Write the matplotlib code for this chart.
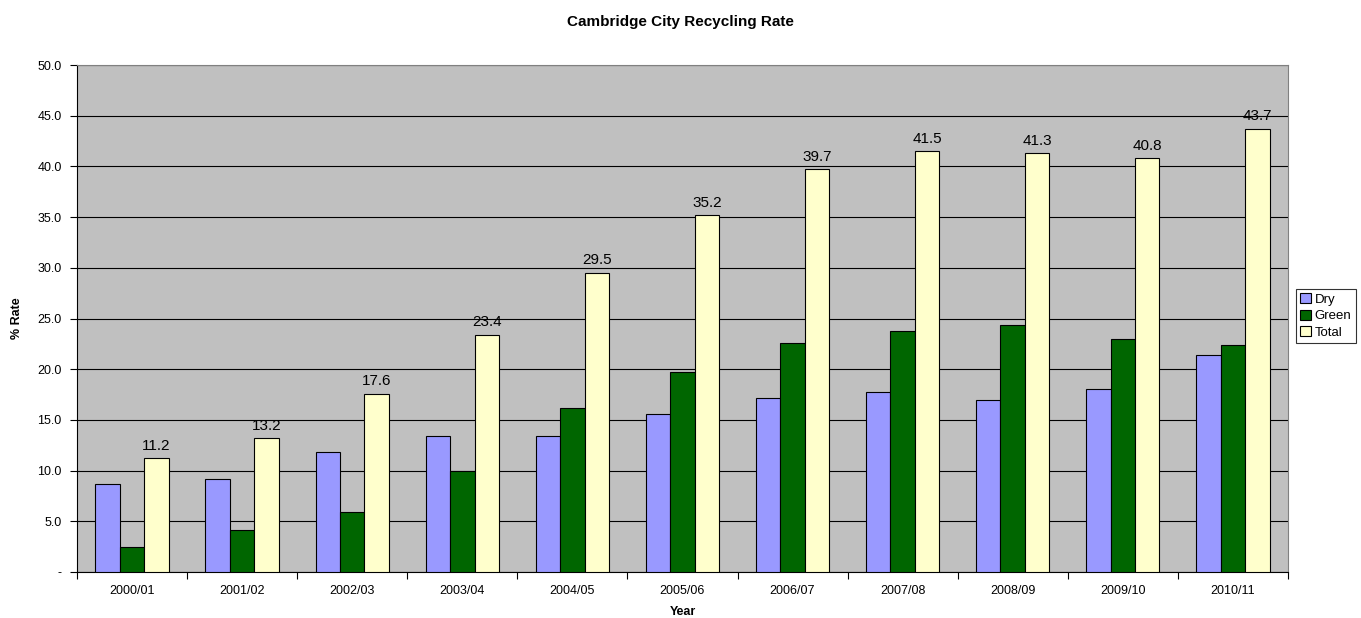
import matplotlib
matplotlib.use("Agg")
import matplotlib.pyplot as plt
import numpy as np

plt.rcParams["font.family"] = ["Liberation Sans", "DejaVu Sans"]

years = ["2000/01", "2001/02", "2002/03", "2003/04", "2004/05", "2005/06",
         "2006/07", "2007/08", "2008/09", "2009/10", "2010/11"]
dry = [8.7, 9.2, 11.8, 13.4, 13.4, 15.6, 17.2, 17.8, 17.0, 18.0, 21.4]
green = [2.5, 4.1, 5.9, 10.0, 16.2, 19.7, 22.6, 23.8, 24.4, 23.0, 22.4]
total = [11.2, 13.2, 17.6, 23.4, 29.5, 35.2, 39.7, 41.5, 41.3, 40.8, 43.7]

fig = plt.figure(figsize=(13.61, 6.18), dpi=100)
ax = fig.add_axes([0.0566, 0.0744, 0.8897, 0.8204])
ax.set_facecolor("#C0C0C0")

x = np.arange(len(years))
w = 0.222
ax.bar(x - w, dry, w, color="#9999FF", edgecolor="black", lw=0.8, label="Dry", zorder=3)
ax.bar(x, green, w, color="#006600", edgecolor="black", lw=0.8, label="Green", zorder=3)
ax.bar(x + w, total, w, color="#FFFFCC", edgecolor="black", lw=0.8, label="Total", zorder=3)
for xi, v in zip(x, total):
    ax.annotate(f"{v:.1f}", (xi + w, v), xytext=(0, 4), textcoords="offset points",
                ha="center", va="bottom", fontsize=11)

ax.set_xlim(-0.5, len(years) - 0.5)
ax.set_ylim(0, 50)
yt = np.arange(0, 50.1, 5)
ax.set_yticks(yt)
ax.set_yticklabels(["-"] + [f"{v:.1f}" for v in yt[1:]], fontsize=9)
ax.yaxis.grid(True, color="black", lw=0.8, zorder=0)
ax.set_axisbelow(True)

ax.set_xticks(np.arange(-0.5, len(years), 1.0))
ax.set_xticklabels([])
ax.set_xticks(x, minor=True)
ax.set_xticklabels(years, minor=True, fontsize=9)
ax.tick_params(axis="x", which="minor", length=0, pad=9)
ax.tick_params(axis="x", which="major", length=5, color="black")
ax.tick_params(axis="y", length=5, pad=6)

for s in ("top", "right"):
    ax.spines[s].set_color("#808080")
for s in ("left", "bottom"):
    ax.spines[s].set_color("black")

ax.set_ylabel("% Rate", fontsize=9, fontweight="bold", labelpad=10)
ax.set_xlabel("Year", fontsize=9, fontweight="bold", labelpad=7)
fig.text(0.5, 0.965, "Cambridge City Recycling Rate", ha="center", va="center",
         fontsize=11, fontweight="bold")

leg = ax.legend(loc="center left", bbox_to_anchor=(1.007, 0.505), frameon=True,
                fancybox=False, edgecolor="black", fontsize=9.5, handlelength=0.8,
                handleheight=0.8, handletextpad=0.3, borderpad=0.3, labelspacing=0.3,
                borderaxespad=0)
leg.get_frame().set_linewidth(0.8)

fig.savefig("out.png", dpi=100)
